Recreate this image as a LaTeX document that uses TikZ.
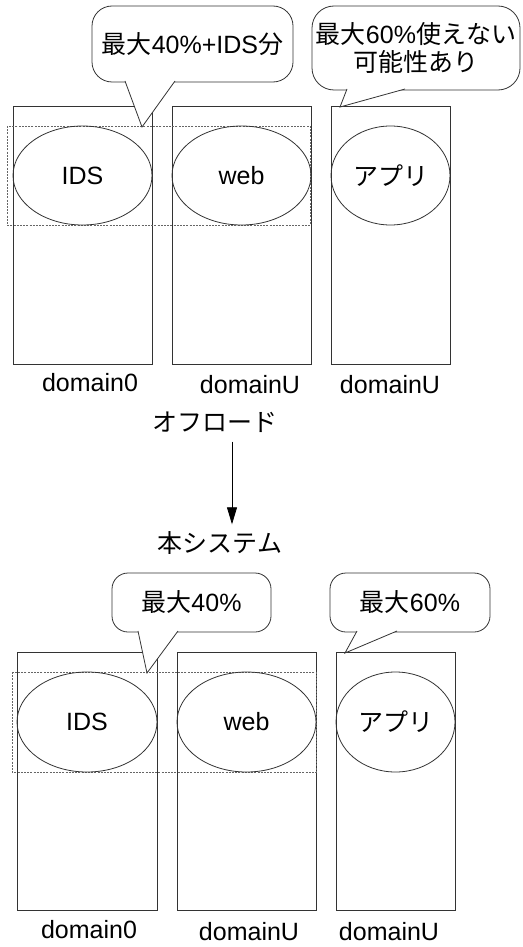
\documentclass[tikz,border=0pt]{standalone}
\usepackage{fontspec}
\setmainfont{Liberation Sans}
\newfontfamily\jp{Noto Sans CJK JP}
\usetikzlibrary{arrows.meta, positioning, shapes.geometric}

\tikzset{
  dom/.style={draw=black!80, line width=0.8pt, minimum height=258pt, inner sep=0pt},
  vm/.style={ellipse, draw=black!80, line width=0.8pt, minimum height=99pt, inner sep=0pt,
    font=\fontsize{25}{29}\selectfont},
  lbl/.style={inner sep=0pt, font=\fontsize{25}{29}\selectfont},
  bubble/.style={draw=black!80, line width=0.8pt, fill=white, inner sep=0pt, align=center,
    font=\fontsize{25}{28}\selectfont},
  tail/.style={draw=black!80, line width=0.8pt, fill=white},
  dashbox/.style={draw=black!60, line width=0.6pt, dash pattern=on 2pt off 1.2pt},
}

\begin{document}
\begin{tikzpicture}[x=1pt, y=-1pt]
\useasboundingbox (0,0) rectangle (522,947);

% Before: IDS inside domain0
\node[dom, minimum width=139pt] (dzero) at (82.5,235.5) {};
\node[dom, minimum width=139pt] (dweb) at (241.5,235.5) {};
\node[dom, minimum width=119pt] (dapp) at (390.5,235.5) {};
\draw[dashbox] (7,126) rectangle (310,225);
\node[vm, minimum width=139pt] (ids) at (82.5,175.5) {IDS};
\node[vm, minimum width=139pt] (web) at (241.5,175.5) {web};
\node[vm, minimum width=119pt] (app) at (390.5,175.5) {\jp アプリ};
\node[lbl] (lzero) at (90,383) {domain0};
\node[lbl] (lweb) at (250,385) {domainU};
\node[lbl] (lapp) at (390,385) {domainU};

% callouts
\node[bubble, rounded corners=20pt, minimum width=201pt, minimum height=76pt] (cpu) at (192.5,44)
  {{\jp 最大}40\%+IDS{\jp 分}};
\filldraw[tail] (125,81) -- (142,127) -- (175,81);
\node[bubble, rounded corners=22pt, minimum width=208pt, minimum height=84pt] (waste) at (416,48)
  {{\jp 最大}60\%{\jp 使えない}\\{\jp 可能性あり}};
\filldraw[tail] (347,89) -- (340,107) -- (405,89);

% offload arrow
\node[lbl] (offload) at (215,422) {\jp オフロード};
\node[lbl] (system) at (220,543) {\jp 本システム};
\coordinate (ax) at (232,0);
\draw[line width=0.8pt, -{Triangle[length=17pt, width=10pt]}]
  ([yshift=-9pt]offload.south -| ax) -- ([yshift=7pt]system.north -| ax);

% After: IDS offloaded
\node[dom, minimum width=140pt] (dzerob) at (87,781.5) {};
\node[dom, minimum width=139pt] (dwebb) at (246.5,781.5) {};
\node[dom, minimum width=119pt] (dappb) at (395.5,781.5) {};
\draw[dashbox] (12,672) rectangle (316,772);
\node[vm, minimum width=140pt, minimum height=100pt] (idsb) at (87,722) {IDS};
\node[vm, minimum width=139pt, minimum height=100pt] (webb) at (246.5,722) {web};
\node[vm, minimum width=119pt, minimum height=100pt] (appb) at (395.5,722) {\jp アプリ};
\node[lbl] (lzerob) at (89,930) {domain0};
\node[lbl] (lwebb) at (249,932) {domainU};
\node[lbl] (lappb) at (389,932) {domainU};

% callouts
\node[bubble, rounded corners=16pt, minimum width=159pt, minimum height=59pt] (cpub) at (191.5,602.5)
  {{\jp 最大}40\%};
\filldraw[tail] (138,631) -- (147,673) -- (178,631);
\node[bubble, rounded corners=16pt, minimum width=160pt, minimum height=59pt] (restb) at (410,602.5)
  {{\jp 最大}60\%};
\filldraw[tail] (357,631) -- (345,653) -- (397,631);

\end{tikzpicture}
\end{document}
